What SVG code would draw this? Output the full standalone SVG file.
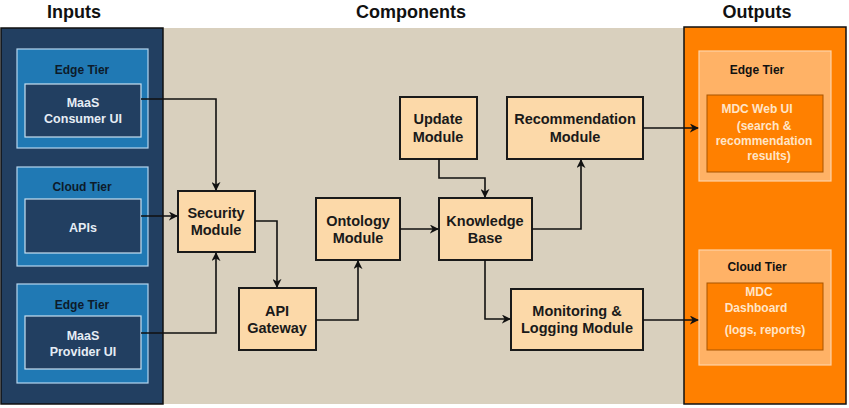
<svg xmlns="http://www.w3.org/2000/svg" width="849" height="408" viewBox="0 0 849 408">
<defs>
<marker id="ah" viewBox="0 0 10 10" refX="9" refY="5" markerWidth="9" markerHeight="9" markerUnits="userSpaceOnUse" orient="auto">
<path d="M0,0 L10,5 L0,10 L3,5 Z" fill="#111"/>
</marker>
<style>
text{font-family:"Liberation Sans",Arial,sans-serif;font-weight:bold;text-anchor:middle}
.title{font-size:18px;fill:#111}
.node rect{fill:#fcd9a9;stroke:#1a1a1a;stroke-width:2}
.node text{font-size:14.5px;fill:#1a1a1a}
.tier{fill:#2079b4;stroke:#b6d6ef;stroke-width:1.2}
.inner{fill:#223f61;stroke:#c8dff0;stroke-width:1.2}
.tl{font-size:12px;fill:#0d1b2a}
.it{font-size:12.5px;fill:#e6edf5}
.otier{fill:#ffb266;stroke:#ffd3a6;stroke-width:1.2}
.oinner{fill:#ff8000;stroke:#a85400;stroke-width:1}
.ot{font-size:12px;fill:#ffe5c8}
.conn path{fill:none;stroke:#111;stroke-width:1.6;marker-end:url(#ah)}
</style>
</defs>
<rect width="849" height="408" fill="#ffffff"/>
<text class="title" x="74" y="18">Inputs</text>
<text class="title" x="411" y="18">Components</text>
<text class="title" x="757" y="18">Outputs</text>
<rect x="163" y="28" width="521" height="376" fill="#d9d0be"/>
<g id="inputs">
<rect x="1" y="28" width="162" height="376" fill="#223f61" stroke="#111" stroke-width="1.5"/>
<g id="in-consumer">
<rect class="tier" x="17" y="49" width="131" height="99"/>
<text class="tl" x="82" y="74">Edge Tier</text>
<rect class="inner" x="25" y="84" width="116" height="53"/>
<text class="it" x="83" y="107">MaaS</text>
<text class="it" x="83" y="123">Consumer UI</text>
</g>
<g id="in-apis">
<rect class="tier" x="17" y="167" width="131" height="99"/>
<text class="tl" x="82" y="191">Cloud Tier</text>
<rect class="inner" x="25" y="199" width="116" height="54"/>
<text class="it" x="83" y="232">APIs</text>
</g>
<g id="in-provider">
<rect class="tier" x="17" y="284" width="131" height="99"/>
<text class="tl" x="82" y="309">Edge Tier</text>
<rect class="inner" x="25" y="316" width="116" height="53"/>
<text class="it" x="83" y="340">MaaS</text>
<text class="it" x="83" y="356">Provider UI</text>
</g>
</g>
<g id="outputs">
<rect x="684" y="27" width="162" height="377" fill="#ff8000" stroke="#111" stroke-width="1.5"/>
<g id="out-web">
<rect class="otier" x="699" y="51" width="132" height="130"/>
<text class="tl" x="757" y="74" style="fill:#111">Edge Tier</text>
<rect class="oinner" x="707" y="95" width="116" height="77"/>
<text class="ot" x="757" y="113">MDC Web UI</text>
<text class="ot" x="764" y="130">(search &amp;</text>
<text class="ot" x="764" y="145">recommendation</text>
<text class="ot" x="769" y="160">results)</text>
</g>
<g id="out-dash">
<rect class="otier" x="699" y="250" width="132" height="115"/>
<text class="tl" x="757" y="271" style="fill:#111">Cloud Tier</text>
<rect class="oinner" x="707" y="283" width="116" height="67"/>
<text class="ot" x="759" y="296">MDC</text>
<text class="ot" x="756" y="312">Dashboard</text>
<text class="ot" x="765" y="334">(logs, reports)</text>
</g>
</g>
<g id="security" class="node"><rect x="178" y="191" width="77" height="61"/><text x="216" y="218">Security</text><text x="216" y="235">Module</text></g>
<g id="gateway" class="node"><rect x="239" y="288" width="77" height="62"/><text x="277" y="316">API</text><text x="277" y="333">Gateway</text></g>
<g id="ontology" class="node"><rect x="316" y="198" width="84" height="62"/><text x="358" y="226">Ontology</text><text x="358" y="243">Module</text></g>
<g id="knowledge" class="node"><rect x="439" y="198" width="93" height="62"/><text x="485" y="226">Knowledge</text><text x="485" y="243">Base</text></g>
<g id="update" class="node"><rect x="400" y="97" width="77" height="62"/><text x="438" y="124">Update</text><text x="438" y="142">Module</text></g>
<g id="recommendation" class="node"><rect x="507" y="97" width="136" height="62"/><text x="575" y="124">Recommendation</text><text x="575" y="142">Module</text></g>
<g id="monitoring" class="node"><rect x="511" y="289" width="132" height="61"/><text x="577" y="316">Monitoring &amp;</text><text x="577" y="333">Logging Module</text></g>
<g id="connectors" class="conn">
<path d="M141,99 H216 V190"/>
<path d="M141,216 H177"/>
<path d="M141,333 H216 V253"/>
<path d="M255,221 H277 V287"/>
<path d="M316,320 H358 V261"/>
<path d="M400,229 H438"/>
<path d="M439,159 V178 H485 V197"/>
<path d="M532,229 H581 V160"/>
<path d="M485,260 V319 H510"/>
<path d="M643,128 H698"/>
<path d="M643,320 H698"/>
</g>
</svg>
